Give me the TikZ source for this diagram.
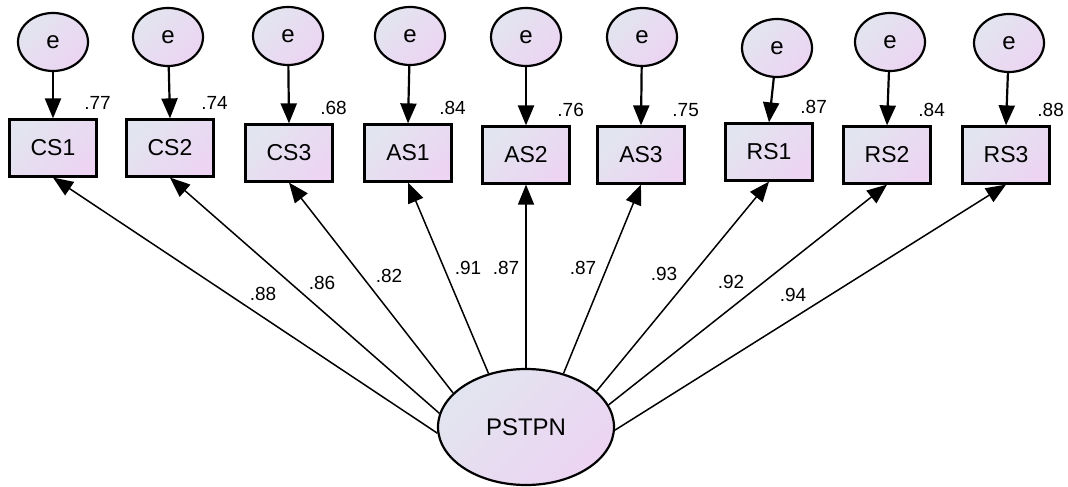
\documentclass[tikz,border=0pt]{standalone}
\usepackage{fontspec}
\setmainfont{Liberation Sans}
\usetikzlibrary{arrows.meta,shapes.geometric}
\definecolor{lightblue}{HTML}{E2E5EF}
\definecolor{lightpink}{HTML}{ECD4F2}
\tikzset{>/.tip={Triangle[length=10pt,width=8pt]},
  fillshade/.style={top color=lightblue, bottom color=lightpink, shading angle=45},
  errvar/.style={ellipse, draw, line width=1.1pt, fillshade, minimum width=35pt, minimum height=29pt, inner sep=0pt, font=\fontsize{12}{14}\selectfont},
  obsvar/.style={rectangle, draw, line width=1.1pt, fillshade, minimum width=43.5pt, minimum height=28.5pt, inner sep=0pt, font=\fontsize{11.5}{13}\selectfont},
  latvar/.style={ellipse, draw, line width=1.1pt, fillshade, minimum width=88pt, minimum height=58pt, inner sep=0pt, font=\fontsize{12}{14}\selectfont},
  coef/.style={inner sep=0pt, font=\fontsize{9.5}{11}\selectfont}}

\begin{document}
\begin{tikzpicture}[x=0.5pt,y=-0.5pt]
\useasboundingbox (0,0) rectangle (1068,486);
\node[latvar] (pstpn) at (526,427) {PSTPN};
\foreach \n/\txt/\bx/\by/\ex/\ey/\rv/\ang/\ld/\lx/\ly in
{1/CS1/53/148/53/42/.77/184/.88/263/294,
 2/CS2/170/148/168/37/.74/171/.86/322/283,
 3/CS3/289/153/288/36/.68/155/.82/389/276,
 4/AS1/408/153/410/36/.84/125/.91/468/268,
 5/AS2/526/155/526/37/.76/90/.87/506/268,
 6/AS3/641/155/642/37/.75/55/.87/583/268,
 7/RS1/769/152/777/48/.87/27/.93/664/274,
 8/RS2/887/155/890/42/.84/15/.92/731/282,
 9/RS3/1006/155/1009/43/.88/358/.94/793/295}
{
  \node[obsvar] (b\n) at (\bx,\by) {\txt};
  \node[errvar] (e\n) at (\ex,\ey) {e};
  \node[coef] (r\n) at ([yshift=7.5pt]b\n.north east) {\rv};
  \draw[->, line width=1.1pt] (e\n) -- (b\n.north);
  \draw[->, line width=0.75pt] (pstpn.\ang) -- (b\n.south);
  \node[coef] (l\n) at (\lx,\ly) {\ld};
}
\end{tikzpicture}
\end{document}
